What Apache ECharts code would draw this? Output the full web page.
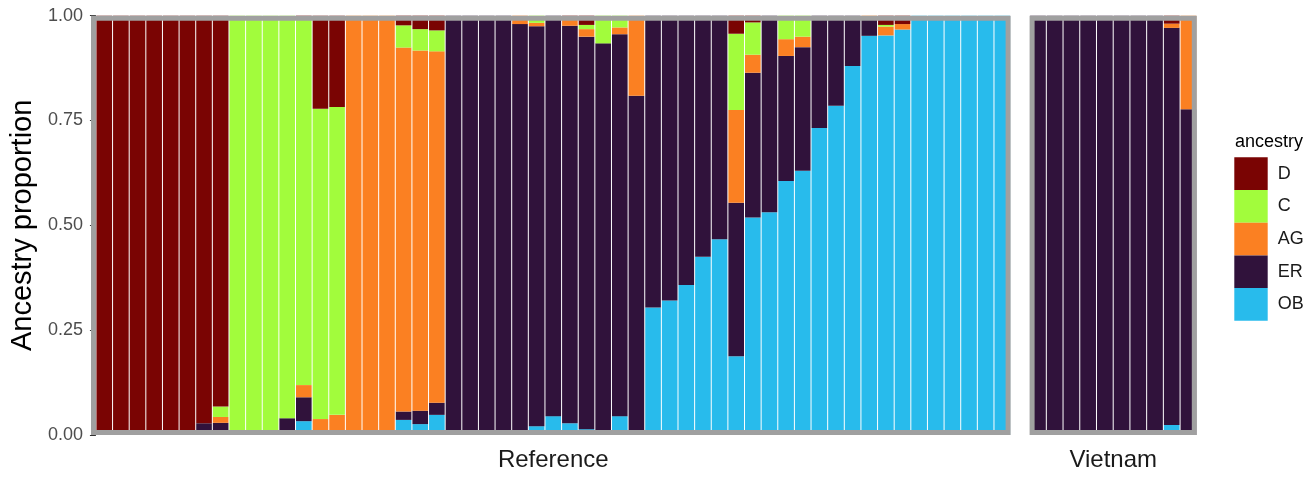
<!DOCTYPE html>
<html>
<head>
<meta charset="utf-8">
<script src="https://cdn.jsdelivr.net/npm/echarts@6/dist/echarts.min.js"></script>
<style>
  html, body { margin: 0; padding: 0; background: #ffffff; }
  #chart { width: 1315px; height: 478px; }
</style>
</head>
<body>
<div id="chart"></div>
<script>
// Ancestry proportions per individual (stacked, each bar sums to 1).
// Reference panel: 55 individuals.
const OB_ref = [
  0, 0, 0, 0, 0, 0, 0, 0, 0, 0,
  0, 0, 0.033, 0, 0, 0, 0, 0, 0.036, 0.026,
  0.048, 0, 0, 0, 0, 0, 0.021, 0.045, 0.028, 0.014,
  0, 0.045, 0, 0.304, 0.321, 0.358, 0.425, 0.467, 0.188, 0.519,
  0.531, 0.606, 0.630, 0.732, 0.785, 0.880, 0.952, 0.953, 0.967, 1,
  1, 1, 1, 1, 1
];
const ER_ref = [
  0, 0, 0, 0, 0, 0, 0.028, 0.029, 0, 0,
  0, 0.04, 0.057, 0, 0, 0, 0, 0, 0.020, 0.032,
  0.029, 1, 1, 1, 1, 0.98, 0.954, 0.955, 0.948, 0.936,
  0.934, 0.911, 0.809, 0.696, 0.679, 0.642, 0.575, 0.533, 0.366, 0.345,
  0.469, 0.298, 0.295, 0.268, 0.215, 0.120, 0.038, 0, 0, 0,
  0, 0, 0, 0, 0
];
const AG_ref = [
  0, 0, 0, 0, 0, 0, 0, 0.014, 0, 0,
  0, 0, 0.029, 0.038, 0.048, 1, 1, 1, 0.868, 0.859,
  0.838, 0, 0, 0, 0, 0.02, 0.008, 0, 0.018, 0.018,
  0, 0.016, 0.191, 0, 0, 0, 0, 0, 0.221, 0.043,
  0, 0.040, 0.025, 0, 0, 0, 0.010, 0.021, 0.013, 0,
  0, 0, 0, 0, 0
];
const C_ref = [
  0, 0, 0, 0, 0, 0, 0, 0.025, 1, 1,
  1, 0.96, 0.876, 0.740, 0.734, 0, 0, 0, 0.053, 0.051,
  0.050, 0, 0, 0, 0, 0, 0.017, 0, 0, 0.010,
  0.066, 0.028, 0, 0, 0, 0, 0, 0, 0.182, 0.077,
  0, 0.056, 0.050, 0, 0, 0, 0, 0.004, 0, 0,
  0, 0, 0, 0, 0
];
const D_ref = [
  1, 1, 1, 1, 1, 1, 0.972, 0.932, 0, 0,
  0, 0, 0.005, 0.222, 0.218, 0, 0, 0, 0.023, 0.032,
  0.035, 0, 0, 0, 0, 0, 0, 0, 0.006, 0.022,
  0, 0, 0, 0, 0, 0, 0, 0, 0.043, 0.016,
  0, 0, 0, 0, 0, 0, 0, 0.022, 0.020, 0,
  0, 0, 0, 0, 0
];

// Vietnam panel: 10 individuals.
const OB_vn = [0, 0, 0, 0, 0, 0, 0, 0, 0.024, 0];
const ER_vn = [1, 1, 1, 1, 1, 1, 1, 1, 0.947, 0.777];
const AG_vn = [0, 0, 0, 0, 0, 0, 0, 0, 0.010, 0.223];
const C_vn  = [0, 0, 0, 0, 0, 0, 0, 0, 0, 0];
const D_vn  = [0, 0, 0, 0, 0, 0, 0, 0, 0.019, 0];

// Panel (facet) names and y-axis ticks
const panelNames = ['Reference', 'Vietnam'];
const yTicks = [0, 0.25, 0.5, 0.75, 1];
const legendOrder = ['D', 'C', 'AG', 'ER', 'OB'];

// Individual ids along each panel's x axis
const refIds = OB_ref.map((_, i) => 'ref_' + (i + 1));
const vnIds = OB_vn.map((_, i) => 'vn_' + (i + 1));

// Layers from bottom of the stack to top
const layers = [
  { name: 'OB', color: '#28BBEC', ref: OB_ref, vn: OB_vn },
  { name: 'ER', color: '#30123B', ref: ER_ref, vn: ER_vn },
  { name: 'AG', color: '#FB8022', ref: AG_ref, vn: AG_vn },
  { name: 'C',  color: '#A2FC3C', ref: C_ref,  vn: C_vn },
  { name: 'D',  color: '#7A0403', ref: D_ref,  vn: D_vn }
];

// Panel geometry
const FONT = "'Liberation Sans', Arial, Helvetica, sans-serif";
const TOP = 15.7, HEIGHT = 419.3;
const panels = [
  { left: 91, width: 919.6 },
  { left: 1029.6, width: 167.2 }
];
const BORDER = 5;
const BORDER_COLOR = '#a0a0a0';

const chart = echarts.init(document.getElementById('chart'), null, { renderer: 'canvas' });

const series = [];
layers.forEach(layer => {
  [layer.ref, layer.vn].forEach((values, p) => {
    series.push({
      type: 'bar',
      name: layer.name,
      stack: 'panel' + p,
      xAxisIndex: p,
      yAxisIndex: p,
      data: values,
      barCategoryGap: '6%',
      itemStyle: { color: layer.color },
      emphasis: { disabled: true }
    });
  });
});

const option = {
  animation: false,
  backgroundColor: '#ffffff',
  textStyle: { fontFamily: FONT },
  grid: panels.map(p => ({ left: p.left, top: TOP, width: p.width, height: HEIGHT, containLabel: false })),
  xAxis: panels.map((p, i) => ({
    type: 'category',
    gridIndex: i,
    data: i === 0 ? refIds : vnIds,
    boundaryGap: true,
    axisLine: { show: false },
    axisTick: { show: false },
    axisLabel: { show: false },
    splitLine: { show: false },
    name: panelNames[i],
    nameLocation: 'middle',
    nameGap: 13,
    nameTextStyle: { fontSize: 24, color: '#1a1a1a', fontFamily: FONT, verticalAlign: 'top' }
  })),
  yAxis: panels.map((p, i) => ({
    type: 'value',
    gridIndex: i,
    min: yTicks[0],
    max: yTicks[yTicks.length - 1],
    interval: 0.25,
    show: i === 0,
    axisLine: { show: false },
    axisTick: { show: true, length: 6, lineStyle: { color: '#333333', width: 1 } },
    axisLabel: {
      show: true,
      margin: 13,
      fontSize: 18,
      color: '#4d4d4d',
      fontFamily: FONT,
      formatter: v => v.toFixed(2)
    },
    splitLine: { show: false },
    name: i === 0 ? 'Ancestry proportion' : '',
    nameLocation: 'middle',
    nameRotate: 90,
    nameGap: 58,
    nameTextStyle: { fontSize: 29, color: '#000000', fontFamily: FONT }
  })),
  legend: {
    data: legendOrder,
    orient: 'vertical',
    left: 1229.3,
    top: 152.3,
    icon: 'rect',
    itemWidth: 33.4,
    itemHeight: 32.7,
    itemGap: 0,
    selectedMode: false,
    textStyle: { fontSize: 18, color: '#1a1a1a', fontFamily: FONT, padding: [0, 0, 0, 5] }
  },
  graphic: [
    ...panels.map(p => ({
      type: 'rect',
      z: 100,
      silent: true,
      shape: {
        x: p.left + BORDER / 2,
        y: TOP + BORDER / 2,
        width: p.width - BORDER,
        height: HEIGHT - BORDER
      },
      style: { fill: null, stroke: BORDER_COLOR, lineWidth: BORDER }
    })),
    {
      type: 'text',
      z: 100,
      left: 1235,
      top: 133,
      style: { text: 'ancestry', fontSize: 18, fill: '#000000', font: '18px ' + FONT }
    }
  ],
  series: series
};

chart.setOption(option);
</script>
</body>
</html>
